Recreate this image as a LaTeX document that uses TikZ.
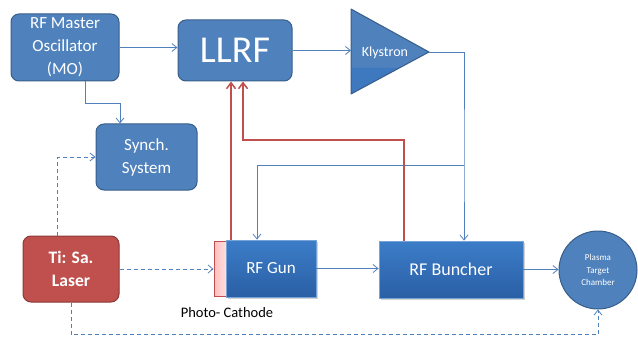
\documentclass[tikz,border=0pt]{standalone}
\usepackage{fontspec}
\setmainfont{Carlito}
\usetikzlibrary{arrows.meta,shadows,calc}
\definecolor{boxblue}{RGB}{79,129,189}
\definecolor{boxedge}{RGB}{56,93,138}
\definecolor{linkblue}{RGB}{79,129,189}
\definecolor{lasered}{RGB}{192,80,77}
\definecolor{laseredge}{RGB}{140,56,54}
\definecolor{gunTop}{RGB}{60,125,200}
\definecolor{gunBot}{RGB}{42,95,165}
\definecolor{klyLow}{RGB}{62,120,190}
\begin{document}
\begin{tikzpicture}[x=1pt,y=-1pt,
  rbox/.style={draw=boxedge, line width=1pt, fill=boxblue, rounded corners=8pt, inner sep=0pt, text=white, align=center},
  sbox/.style={draw=gunTop!70!white, line width=0.8pt, top color=gunTop, bottom color=gunBot, inner sep=0pt, text=white, align=center,
     drop shadow={shadow xshift=1.5pt, shadow yshift=-1.5pt, opacity=0.35}},
  arr/.style={draw=linkblue, line width=0.8pt, -{Straight Barb[length=5pt,width=8pt]}},
  dasharr/.style={arr, dashed, dash pattern=on 4pt off 3pt},
  redarr/.style={draw=lasered, line width=2pt, -{Straight Barb[length=6pt,width=9pt,line width=1.5pt]}},
  txt/.style={font=\fontsize{17}{23}\selectfont}
]
\useasboundingbox (0,0) rectangle (638,337);

% nodes
\node[rbox, txt, minimum width=108pt, minimum height=67pt] (MO) at (65,47.5) {RF Master\\Oscillator\\(MO)};
\node[rbox, minimum width=114pt, minimum height=61pt, font=\fontsize{38}{40}\selectfont] (LLRF) at (235,50.5) {LLRF};
\node[rbox, txt, minimum width=101pt, minimum height=66pt] (Syn) at (146.5,157) {Synch.\\System};
\node[rbox, txt, draw=laseredge, fill=lasered, minimum width=96pt, minimum height=66pt, font=\fontsize{17.5}{23}\selectfont\bfseries] (Laser) at (71,269) {Ti: Sa.\\Laser};
\node[draw=lasered, line width=0.8pt, left color=red!25, right color=red!12, minimum width=13pt, minimum height=55pt, inner sep=0pt] (Cath) at (220.5,268.5) {};
\node[sbox, txt, minimum width=90pt, minimum height=57pt] (Gun) at (271,268.5) {RF Gun};
\node[sbox, font=\fontsize{18}{22}\selectfont, minimum width=144pt, minimum height=57pt] (Bun) at (451,269.5) {RF Buncher};
\node[circle, draw=boxedge, line width=1pt, fill=boxblue, minimum size=78pt, inner sep=0pt, text=white, align=center, font=\fontsize{9}{12.5}\selectfont] (Pl) at (598,270) {Plasma\\Target\\Chamber};
\node[font=\fontsize{14.5}{16}\selectfont, text=black] (PC) at (227,313) {Photo- Cathode};

% klystron
\coordinate (kTop) at (351,9);
\coordinate (kBot) at (351,94);
\coordinate (kApex) at (429,52);
\coordinate (kIn) at (351,50.5);
\fill[boxblue] (kTop) -- (kApex) -- (kBot) -- cycle;
\fill[klyLow] (351,68) -- (399.3,68) -- (kBot) -- cycle;
\draw[boxedge, line width=1pt, line join=round] (kTop) -- (kApex) -- (kBot) -- cycle;
\node[text=white, font=\fontsize{14}{16}\selectfont, inner sep=0pt] (Kly) at (385,53) {Klystron};

% connectors
\draw[arr] (MO.east) -- (MO.east -| LLRF.west);
\draw[arr] ([xshift=20pt]MO.south) -- ++(0,22) -| ([xshift=-26.5pt]Syn.north);
\draw[arr] (LLRF.east) -- (kIn);
\coordinate (kx) at (464,165);
\coordinate (gx) at (257,165);
\draw[arr] (kApex) -| (kx) -- (kx |- Bun.north);
\draw[draw=linkblue, line width=0.8pt] (kx) -- (gx);
\draw[arr] (gx) -- (gx |- Gun.north);
\draw[redarr] ([xshift=-40pt]Gun.north) -- ([xshift=-40pt]Gun.north |- LLRF.south);
\draw[redarr] ([xshift=-47pt]Bun.north) -- ++(0,-101) -| ([xshift=8pt]LLRF.south);
\draw[arr] (Gun.east) -- (Gun.east -| Bun.west);
\draw[arr] (Bun.east) -- (Bun.east -| Pl.west);
\draw[dasharr] (Laser.east) -- (Laser.east -| Cath.west);
\draw[dasharr] ([xshift=-14pt]Laser.north) |- (Syn.west);
\draw[dasharr] (Laser.south) -- ++(0,32) -| (Pl.south);
\end{tikzpicture}
\end{document}
